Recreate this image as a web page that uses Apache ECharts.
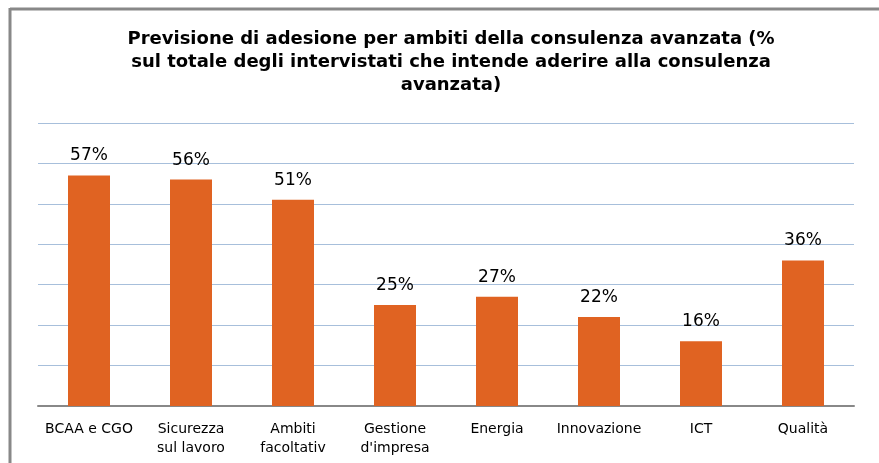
<!DOCTYPE html>
<html>
<head>
<meta charset="utf-8">
<script src="https://cdn.jsdelivr.net/npm/echarts@6/dist/echarts.min.js"></script>
<style>
  html, body { margin: 0; padding: 0; background: #fff; }
  #container { width: 879px; height: 463px; }
</style>
</head>
<body>
<div id="container"></div>
<script>
var categories = [
	'BCAA e CGO', 'Sicurezza\nsul lavoro', 'Ambiti\nfacoltativ', 'Gestione\nd\'impresa',
	'Energia', 'Innovazione', 'ICT', 'Qualità'
];
var values = [ 57, 56, 51, 25, 27, 22, 16, 36 ];
var titleText = 'Previsione di adesione per ambiti della consulenza avanzata (%\nsul totale degli intervistati che intende aderire alla consulenza\navanzata)';

var dom = document.getElementById( 'container' );
var myChart = echarts.init( dom );
var option = {
	backgroundColor: '#fff',
	animation: false,
	title: {
		text: titleText,
		left: 446,
		top: 23,
		textAlign: 'center',
		textStyle: {
			fontFamily: 'DejaVu Sans',
			fontWeight: 'bold',
			fontSize: 18,
			lineHeight: 23,
			color: '#000'
		}
	},
	graphic: [
		{
			type: 'line',
			shape: { x1: 10, y1: 9, x2: 879, y2: 9 },
			style: { stroke: '#888', lineWidth: 3 }
		}, {
			type: 'line',
			shape: { x1: 10, y1: 8, x2: 10, y2: 463 },
			style: { stroke: '#888', lineWidth: 3 }
		}
	],
	grid: {
		left: 38,
		right: 25,
		top: 123,
		bottom: 57,
		containLabel: false
	},
	xAxis: {
		type: 'category',
		data: categories,
		axisLine: { lineStyle: { color: '#888', width: 2 } },
		axisTick: { show: false },
		axisLabel: {
			interval: 0,
			margin: 14,
			fontFamily: 'DejaVu Sans',
			fontSize: 14,
			lineHeight: 19,
			color: '#000'
		}
	},
	yAxis: {
		type: 'value',
		min: 0,
		max: 70,
		interval: 10,
		axisLabel: { show: false },
		axisLine: { show: false },
		axisTick: { show: false },
		splitLine: { lineStyle: { color: '#a7bfdb', width: 1 } }
	},
	series: [
		{
			type: 'bar',
			data: values,
			barWidth: 42,
			itemStyle: { color: '#e06322' },
			label: {
				show: true,
				position: 'top',
				distance: 11,
				formatter: '{c}%',
				fontFamily: 'DejaVu Sans',
				fontSize: 17,
				color: '#000'
			}
		}
	]
};

if ( option && typeof option === "object" ) {
	myChart.setOption( option, true );
}
</script>
</body>
</html>
